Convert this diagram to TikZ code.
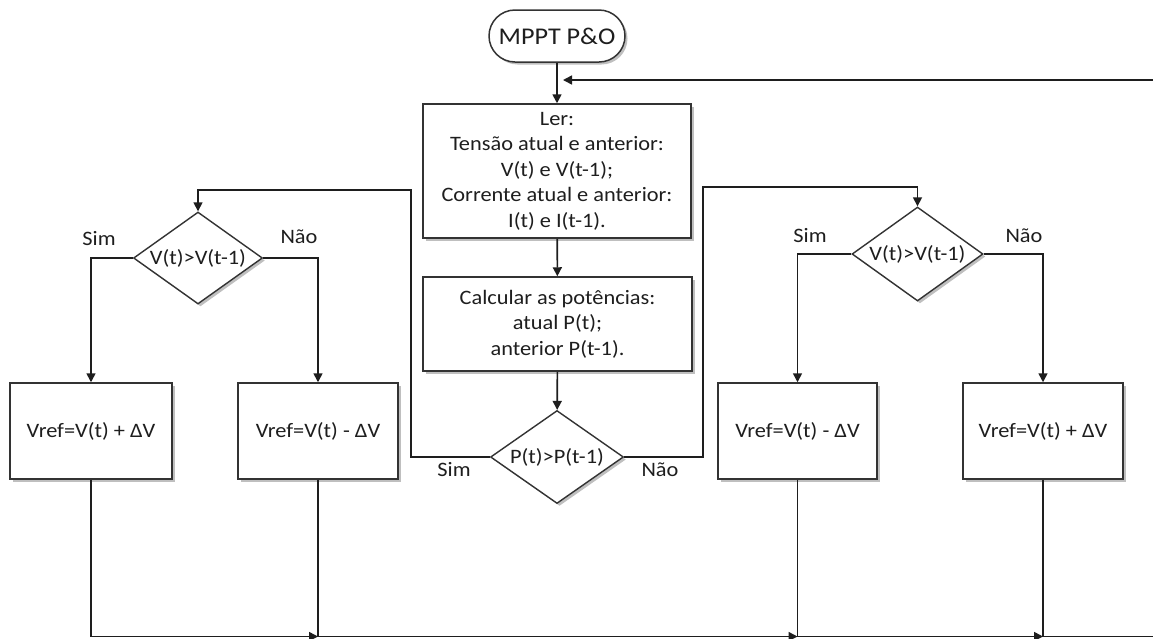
\documentclass[tikz,border=0pt]{standalone}
\usepackage{fontspec}
\setmainfont{Carlito}[FakeStretch=1.09]
\usetikzlibrary{arrows.meta,shapes.geometric,shadows}
\definecolor{ink}{HTML}{1E1E1E}
\definecolor{wire}{HTML}{1E1E1E}
\definecolor{edge}{HTML}{333333}
\begin{document}
\begin{tikzpicture}[x=1pt,y=-1pt,
  txt/.style={font=\fontsize{20.5}{25.5}\selectfont, text=ink, align=center},
  shade/.style={drop shadow={shadow xshift=2.5pt, shadow yshift=-2.5pt, opacity=0.25, fill=black}},
  procbox/.style={txt, draw=edge, line width=1.5pt, fill=white, shade, rectangle, inner sep=0pt},
  decision/.style={draw=edge, line width=1.4pt, fill=white, shade, diamond, inner sep=0pt},
  terminal/.style={draw=edge, line width=1.5pt, fill=white, shade, rectangle, rounded corners=26pt,
    minimum width=136pt, minimum height=52pt, inner sep=0pt, text=ink, font=\fontsize{24}{28}\selectfont},
  wireline/.style={draw=wire, line width=1.6pt},
  arr/.style={wireline, -{Triangle[length=9pt,width=9pt]}},
  tag/.style={txt}
]
\useasboundingbox[fill=white] (0,0) rectangle (1153,638);

% main column
\node[terminal] (start) at (557,36) {MPPT P\&O};
\node[procbox, minimum width=268pt, minimum height=134pt] (read) at (557,171)
  {Ler:\\Tensão atual e anterior:\\V(t) e V(t-1);\\Corrente atual e anterior:\\I(t) e I(t-1).};
\node[procbox, minimum width=269pt, minimum height=94pt] (calc) at (557.5,324)
  {Calcular as potências:\\atual P(t);\\anterior P(t-1).};
\node[decision, minimum width=133pt, minimum height=93pt,
  label={[txt]center:P(t)>P(t-1)}] (pd) at (557,457) {};

% left branch
\node[decision, minimum width=129pt, minimum height=92pt,
  label={[txt]center:V(t)>V(t-1)}] (dl) at (198,258) {};
\node[procbox, minimum width=162pt, minimum height=96pt] (b1) at (91,431) {Vref=V(t) + ΔV};
\node[procbox, minimum width=160pt, minimum height=96pt] (b2) at (318,431) {Vref=V(t) - ΔV};

% right branch
\node[decision, minimum width=131pt, minimum height=94pt,
  label={[txt]center:V(t)>V(t-1)}] (dr) at (917.5,254) {};
\node[procbox, minimum width=159pt, minimum height=96pt] (b3) at (797.5,431) {Vref=V(t) - ΔV};
\node[procbox, minimum width=160pt, minimum height=96pt] (b4) at (1043,431) {Vref=V(t) + ΔV};

% branch labels
\node[tag] (simp) at (454,470) {Sim};
\node[tag] (naop) at (660,470) {Não};
\node[tag] (siml) at (99,239) {Sim};
\node[tag] (naol) at (299,237) {Não};
\node[tag] (simr) at (810,236) {Sim};
\node[tag] (naor) at (1024,236) {Não};

% routing points
\coordinate (merge) at (557,80);
\coordinate (loopin) at (1153,80);
\coordinate (lbus) at (411,190);
\coordinate (rbus) at (703,187);
\coordinate (bot) at (0,636.5);
\coordinate (botend) at (1153,636.5);

% main flow
\draw[arr] (start) -- (read);
\draw[arr, shorten >=6pt] (loopin) -- (merge);
\draw[arr] (read) -- (calc);
\draw[arr] (calc) -- (pd);

% decision on power
\draw[arr] (pd.west) -| (lbus) -| (dl.north);
\draw[arr] (pd.east) -| (rbus) -| (dr.north);

% decisions on voltage
\draw[arr] (dl.west) -| (b1.north);
\draw[arr] (dl.east) -| (b2.north);
\draw[arr] (dr.west) -| (b3.north);
\draw[arr] (dr.east) -| (b4.north);

% return bus along the bottom
\draw[arr] (b1.south) -- (b1.south |- bot) -- (b2.south |- bot);
\draw[wireline] (b2.south) -- (b2.south |- bot);
\draw[arr] (b2.south |- bot) -- (b3.south |- bot);
\draw[wireline] (b3.south) -- (b3.south |- bot);
\draw[arr] (b3.south |- bot) -- (b4.south |- bot);
\draw[wireline] (b4.south) -- (b4.south |- bot) -- (botend);
\end{tikzpicture}
\end{document}
